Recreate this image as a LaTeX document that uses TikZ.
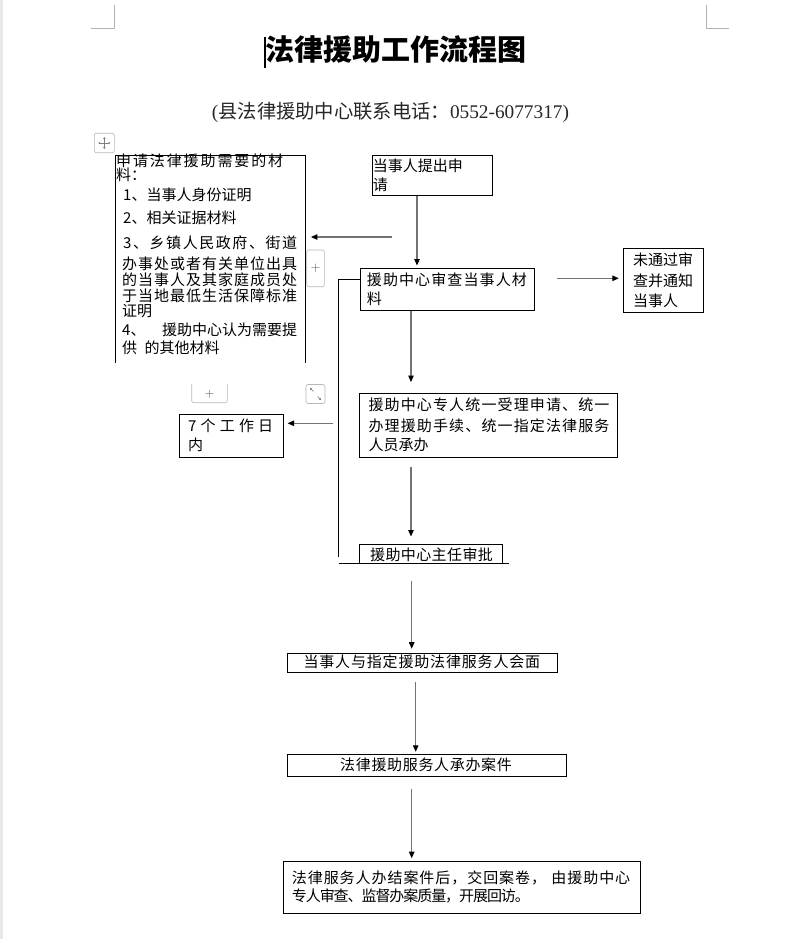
\documentclass[tikz,border=0pt]{standalone}
\usepackage{fontspec}
\setmainfont{Noto Sans CJK SC}
\newfontfamily\lserif{Liberation Serif}
\usetikzlibrary{arrows.meta}
\makeatletter
\def\spr#1{\spr@first#1\relax}
\def\spr@first#1{#1\spr@rest}
\def\spr@rest#1{\ifx\relax#1\else\hskip 0pt plus 1fil minus 1.5pt\relax #1\expandafter\spr@rest\fi}
\makeatother
\newcommand\sline[2]{\makebox[#1][s]{\spr{#2}}}
\begin{document}
\begin{tikzpicture}[x=1pt,y=-1pt,
  txt/.style={inner sep=0pt, anchor=west, font=\fontsize{15}{16}\selectfont, text height=12pt, text depth=1.5pt},
  box/.style={draw=black, line width=0.8pt, inner sep=0pt, anchor=north west},
  nobox/.style={inner sep=0pt, anchor=north west},
  conn/.style={draw=black, line width=0.8pt},
  arr/.style={draw=black!55, line width=1.1pt, -{Triangle[length=6.5pt,width=5.5pt,color=black]}},
  ui/.style={draw=black!28, line width=0.6pt, rounded corners=2pt},
  uitxt/.style={inner sep=0pt, text=black!70, font=\sffamily\fontsize{13}{13}\selectfont}]
\fill[white] (0,0) rectangle (797,939);
\useasboundingbox (0,0) rectangle (797,939);
\fill[black!9] (0,0) rectangle (3,939);
% page corner marks
\draw[black!30, line width=0.6pt] (91,28.3) -- (114.3,28.3) -- (114.3,5);
\draw[black!30, line width=0.6pt] (706,5) -- (706,28.3) -- (729,28.3);
% title and subtitle
\draw[black, line width=1.3pt] (265,36.7) -- (265,68.3);
\node[inner sep=0pt, font=\fontsize{29}{30}\selectfont\bfseries, text height=23.2pt, text depth=2.9pt] (title) at (395.5,50.5) {法律援助工作流程图};
\node[inner sep=0pt, font=\fontsize{19.3}{20}\selectfont, text height=15.4pt, text depth=1.9pt, text=black!85] (subtitle) at (390.5,112) {{\lserif (}县法律援助中心联系电话：{\lserif 0552-6077317)}};
% UI handles
\draw[ui] (94.3,133.3) rectangle (114.3,152.7);
\coordinate (mv) at (104.3,143);
\draw[black!50, line width=0.5pt, -{Stealth[length=2pt,width=2.5pt]}] (mv) -- +(0,-6);
\draw[black!50, line width=0.5pt, -{Stealth[length=2pt,width=2.5pt]}] (mv) -- +(0,6);
\draw[black!50, line width=0.5pt, -{Stealth[length=2pt,width=2.5pt]}] (mv) -- +(-6,0);
\draw[black!50, line width=0.5pt, -{Stealth[length=2pt,width=2.5pt]}] (mv) -- +(6,0);
\draw[ui] (306.7,250) rectangle (324.3,286.7);
\node[uitxt] (plus1) at (315.5,268) {+};
\draw[ui] (191.7,384) -- (191.7,402.7) -- (227.3,402.7) -- (227.3,384);
\node[uitxt] (plus2) at (209.5,394) {+};
\draw[ui] (306,384.5) rectangle (325,403.5);
\draw[black!55, line width=0.5pt, -{Stealth[length=2pt,width=2.5pt]}] (313.5,391.5) -- (310,388);
\draw[black!55, line width=0.5pt, -{Stealth[length=2pt,width=2.5pt]}] (317.5,396.5) -- (321,400);
% materials box (open at bottom)
\node[nobox, minimum width=190pt, minimum height=207.5pt] (mat) at (115,155) {};
\draw[conn] (mat.south west) -- (mat.north west) -- (mat.north east) -- (mat.south east);
\node[txt] (m1) at (116,161.5) {\sline{167pt}{申请法律援助需要的材}};
\node[txt] (m2) at (116,175.5) {料：};
\node[txt] (m3) at (123,195) {1、当事人身份证明};
\node[txt] (m4) at (123,218) {2、相关证据材料};
\node[txt] (m5) at (123,243) {\sline{174pt}{3、乡镇人民政府、街道}};
\node[txt] (m6) at (122,264) {\sline{175pt}{办事处或者有关单位出具}};
\node[txt] (m7) at (122,280) {\sline{175pt}{的当事人及其家庭成员处}};
\node[txt] (m8) at (122,296.5) {\sline{175pt}{于当地最低生活保障标准}};
\node[txt] (m9) at (122,311.5) {证明};
\node[txt] (m10a) at (122,330) {4、};
\node[txt] (m10b) at (162,330) {\sline{135pt}{援助中心认为需要提}};
\node[txt] (m11) at (122,348) {供\hspace{0.5em}的其他材料};
% apply box
\node[box, minimum width=120pt, minimum height=40pt] (apply) at (371.7,155) {};
\node[txt] (ap1) at (372.7,166.7) {当事人提出申};
\node[txt] (ap2) at (372.7,185) {请};
% review box
\node[box, minimum width=174pt, minimum height=41.7pt] (review) at (360,268.3) {};
\node[txt] (rv1) at (366.7,280) {\sline{160pt}{援助中心审查当事人材}};
\node[txt] (rv2) at (366.7,299.3) {料};
% fail box
\node[box, minimum width=80pt, minimum height=63.4pt] (fail) at (623.3,248.3) {};
\node[txt] (fl1) at (633,260) {\sline{60pt}{未通过审}};
\node[txt] (fl2) at (633,281.7) {\sline{60pt}{查并通知}};
\node[txt] (fl3) at (633,301.7) {当事人};
% center box
\node[box, minimum width=257.7pt, minimum height=63.4pt] (center) at (359,393.3) {};
\node[txt] (cn1) at (368.3,405) {\sline{241pt}{援助中心专人统一受理申请、统一}};
\node[txt] (cn2) at (368.3,426.7) {\sline{241pt}{办理援助手续、统一指定法律服务}};
\node[txt] (cn3) at (368.3,445) {人员承办};
% days box
\node[box, minimum width=104pt, minimum height=43pt] (days) at (179.3,414.3) {};
\node[txt] (dy1) at (188,426.7) {\sline{85pt}{7个工作日}};
\node[txt] (dy2) at (188,445) {内};
% approve box
\node[nobox, minimum width=143.3pt, minimum height=19pt] (approve) at (359,544) {};
\draw[conn] (approve.south west) -- (approve.north west) -- (approve.north east) -- (approve.south east);
\node[txt] (apv) at (370,555) {\sline{122.7pt}{援助中心主任审批}};
\coordinate (b1) at (338.5,563);
\coordinate (b2) at (509.3,563);
\draw[conn] (b1) -- (b2);
% return line
\coordinate (l1) at (338.5,557);
\coordinate (l2) at (338.5,279.3);
\draw[conn] (l1) -- (l2) -- (review.west |- l2);
% meet box
\node[box, minimum width=269.4pt, minimum height=19.6pt] (meet) at (287.3,652.7) {};
\node[txt] (mt) at (303.3,662.3) {\sline{236.7pt}{当事人与指定援助法律服务人会面}};
% handle box
\node[box, minimum width=278.4pt, minimum height=21.7pt] (handle) at (287.3,754.3) {};
\node[txt] (hd) at (340,765.7) {\sline{171.7pt}{法律援助服务人承办案件}};
% final box
\node[box, minimum width=356.7pt, minimum height=52pt] (final) at (283.3,860.7) {};
\node[txt] (fn1) at (291.7,878.3) {\sline{338.3pt}{法律服务人办结案件后，交回案卷，{~}由援助中心}};
\node[txt] (fn2) at (291.7,896) {\sline{238pt}{专人审查、监督办案质量，开展回访。}};
% arrows
\coordinate (a1) at (417,265.5);
\draw[arr] (apply.south -| a1) -- (a1);
\coordinate (a2s) at (392.3,237);
\draw[arr, shorten >=5.5pt] (a2s) -- (mat.east |- a2s);
\coordinate (a3s) at (556.7,278.3);
\draw[arr, shorten >=4.5pt] (a3s) -- (fail.west |- a3s);
\coordinate (a4) at (411,382);
\draw[arr] (review.south -| a4) -- (a4);
\coordinate (a5s) at (333.3,423.3);
\draw[arr, shorten >=3.5pt] (a5s) -- (days.east |- a5s);
\coordinate (a6s) at (411,466.7);
\coordinate (a6e) at (411,536.5);
\draw[arr] (a6s) -- (a6e);
\coordinate (a7s) at (411.7,581);
\draw[arr, shorten >=4pt] (a7s) -- (meet.north -| a7s);
\coordinate (a8s) at (415.7,681.7);
\draw[arr, shorten >=2.5pt] (a8s) -- (handle.north -| a8s);
\coordinate (a9s) at (411.7,789.3);
\draw[arr, shorten >=2.5pt] (a9s) -- (final.north -| a9s);
\end{tikzpicture}
\end{document}
